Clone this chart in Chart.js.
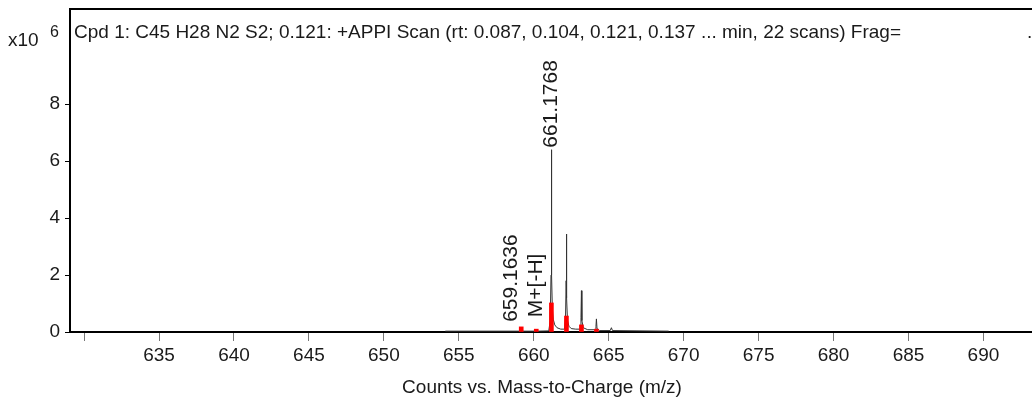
<!DOCTYPE html>
<html>
<head>
<meta charset="utf-8">
<script src="https://cdn.jsdelivr.net/npm/chart.js@4.4.1/dist/chart.umd.min.js"></script>
<style>
    html, body { margin: 0; padding: 0; background: #fff; }
    #wrap { width: 1032px; height: 398px; position: relative; }
</style>
</head>
<body>
<div id="wrap"><canvas id="msChart"></canvas></div>
<script>
// profile spectrum (m/z, counts x10^6)
const profileMz = [654.1, 659.0, 659.12, 659.16, 659.22, 660.1, 660.17, 660.24,
    661.0, 661.1, 661.15, 661.177, 661.2, 661.24, 661.3, 661.4, 661.55, 661.8,
    662.05, 662.12, 662.16, 662.18, 662.2, 662.25, 662.35, 662.5, 662.8,
    663.1, 663.15, 663.18, 663.21, 663.3, 663.6,
    664.1, 664.15, 664.18, 664.22, 664.4,
    665.1, 665.18, 665.25, 669.0];
const profileCounts = [0.03, 0.03, 0.04, 0.06, 0.03, 0.03, 0.07, 0.03,
    0.04, 0.4, 2.0, 6.4, 2.0, 0.8, 0.45, 0.25, 0.15, 0.1,
    0.1, 0.5, 1.8, 3.44, 1.2, 0.4, 0.2, 0.12, 0.1,
    0.1, 0.5, 1.45, 0.4, 0.15, 0.08,
    0.08, 0.2, 0.46, 0.12, 0.05,
    0.05, 0.15, 0.05, 0.03];

// predicted isotope pattern (red)
const isoMz = [659.1636, 660.167, 661.1768, 662.18, 663.18, 664.18];
const isoCounts = [0.18, 0.1, 1.02, 0.56, 0.25, 0.1];

const xTicks = [630, 635, 640, 645, 650, 655, 660, 665, 670, 675, 680, 685, 690];
const yTicks = [0, 2, 4, 6, 8];

const peakText = ['661.1768', '659.1636', 'M+[-H]'];
const peakMz = [661.1768, 659.1636, 660.167];
const peakHeight = [6.4, 0.18, 0.1];

const titleText = 'Cpd 1: C45 H28 N2 S2; 0.121: +APPI Scan (rt: 0.087, 0.104, 0.121, 0.137 ... min, 22 scans) Frag=';
const xTitle = 'Counts vs. Mass-to-Charge (m/z)';

const FONT = '"Liberation Sans", Arial, sans-serif';

const annotations = {
    id: 'annotations',
    afterDraw(chart) {
        const { ctx, chartArea, scales } = chart;
        const xs = scales.x, ys = scales.y;
        ctx.save();

        // frame top line
        ctx.strokeStyle = '#000';
        ctx.lineWidth = 2;
        ctx.beginPath();
        ctx.moveTo(chartArea.left - 1, chartArea.top);
        ctx.lineTo(chartArea.right, chartArea.top);
        ctx.stroke();

        ctx.fillStyle = '#1a1a1a';
        ctx.textBaseline = 'alphabetic';
        ctx.textAlign = 'left';
        ctx.font = '19px ' + FONT;
        ctx.fillText(titleText, chartArea.left + 4, 38);
        ctx.fillText('.', 1027, 38);
        ctx.fillText('x10', 8, 46);
        ctx.font = '16px ' + FONT;
        ctx.fillText('6', 50, 37);

        // x axis title
        ctx.font = '19px ' + FONT;
        ctx.textAlign = 'center';
        ctx.fillText(xTitle, 542, 393);

        // peak labels, rotated
        ctx.font = '21px ' + FONT;
        const shifts = [[0, -2], [-10, -5], [0, -12]];
        peakText.forEach((t, i) => {
            const px = xs.getPixelForValue(peakMz[i]) + shifts[i][0];
            const py = ys.getPixelForValue(peakHeight[i]) + shifts[i][1];
            ctx.save();
            ctx.translate(px, py);
            ctx.rotate(-Math.PI / 2);
            ctx.textAlign = 'left';
            ctx.textBaseline = 'middle';
            ctx.fillText(t, 0, 0);
            ctx.restore();
        });
        ctx.restore();
    }
};

new Chart(document.getElementById('msChart'), {
    type: 'scatter',
    data: {
        datasets: [
            {
                type: 'bar',
                data: isoMz.map((m, i) => ({ x: m, y: isoCounts[i] })),
                backgroundColor: '#ff0000',
                barThickness: 4,
                order: 0
            },
            {
                type: 'line',
                data: profileMz.map((m, i) => ({ x: m, y: profileCounts[i] })),
                borderColor: '#333',
                borderWidth: 1,
                pointRadius: 0,
                tension: 0,
                fill: false,
                order: 1
            }
        ]
    },
    plugins: [annotations],
    options: {
        responsive: true,
        maintainAspectRatio: false,
        animation: false,
        layout: { padding: { top: 9, right: 0, left: 0, bottom: 0 } },
        plugins: {
            legend: { display: false },
            tooltip: { enabled: false }
        },
        scales: {
            x: {
                type: 'linear',
                offset: false,
                min: 629.06,
                max: 693.24,
                afterBuildTicks: (scale) => { scale.ticks = xTicks.map(v => ({ value: v })); },
                afterFit: (scale) => {
                    scale.height = 66;
                    scale.paddingLeft = 0;
                    scale.paddingRight = 0;
                },
                grid: { offset: false, drawOnChartArea: false, drawTicks: true, tickLength: 9, tickColor: '#777' },
                border: { display: true, color: '#000', width: 2 },
                ticks: {
                    color: '#1a1a1a',
                    font: { family: FONT, size: 19 },
                    padding: 3,
                    maxRotation: 0,
                    autoSkip: false,
                    callback: (v) => v === 630 ? '' : v
                }
            },
            y: {
                min: 0,
                max: 11.34,
                afterBuildTicks: (scale) => { scale.ticks = yTicks.map(v => ({ value: v })); },
                afterFit: (scale) => {
                    scale.width = 70;
                    scale.paddingTop = 0;
                    scale.paddingBottom = 0;
                },
                grid: { drawOnChartArea: false, drawTicks: true, tickLength: 5, tickColor: '#000' },
                border: { display: true, color: '#000', width: 2 },
                ticks: {
                    color: '#1a1a1a',
                    font: { family: FONT, size: 19 },
                    padding: 5
                }
            }
        }
    }
});
</script>
</body>
</html>
